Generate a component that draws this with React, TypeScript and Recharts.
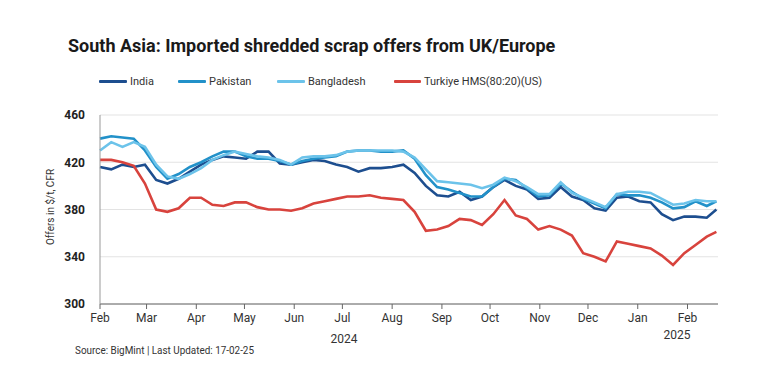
import React from 'react';
import { LineChart, Line, XAxis, YAxis, CartesianGrid } from 'recharts';

// days since 1 Feb 2024 (roughly weekly readings)
const days = [
  0, 7, 14, 21, 28, 35, 42, 49, 56, 63, 70, 77, 84, 91, 98, 105, 112, 119, 126, 133,
  140, 147, 154, 161, 168, 175, 182, 189, 196, 203, 210, 217, 224, 231, 238, 245, 252, 259, 266, 273,
  280, 287, 294, 301, 308, 315, 322, 329, 336, 343, 350, 357, 364, 371, 378, 384,
];

const india = [
  416, 414, 418, 416, 418, 405, 402, 406, 412, 418, 422, 425, 424, 423, 429, 429, 419, 418, 420, 422,
  421, 418, 416, 412, 415, 415, 416, 418, 411, 400, 392, 391, 395, 388, 391, 399, 405, 400, 397, 389,
  390, 399, 391, 388, 381, 379, 390, 391, 387, 386, 376, 371, 374, 374, 373, 380,
];

const pakistan = [
  440, 442, 441, 440, 430, 416, 406, 410, 416, 420, 425, 429, 429, 425, 423, 423, 421, 418, 421, 423,
  424, 425, 429, 430, 430, 429, 429, 430, 423, 409, 399, 397, 394, 391, 391, 399, 406, 405, 398, 391,
  392, 402, 395, 389, 385, 381, 393, 392, 392, 390, 386, 381, 382, 387, 383, 387,
];

const bangladesh = [
  430, 437, 433, 437, 433, 418, 408, 406, 410, 415, 422, 426, 429, 427, 425, 424, 422, 418, 424, 425,
  425, 426, 429, 430, 430, 430, 430, 429, 424, 414, 404, 403, 402, 401, 398, 401, 407, 404, 399, 393,
  393, 403, 394, 390, 386, 382, 393, 395, 395, 394, 389, 384, 385, 388, 387, 387,
];

const turkiye = [
  422, 422, 420, 417, 402, 380, 378, 381, 390, 390, 384, 383, 386, 386, 382, 380, 380, 379, 381, 385,
  387, 389, 391, 391, 392, 390, 389, 388, 378, 362, 363, 366, 372, 371, 367, 376, 388, 375, 372, 363,
  366, 363, 358, 343, 340, 336, 353, 351, 349, 347, 341, 333, 343, 350, 357, 361,
];

const monthStarts = [0, 29, 60, 90, 121, 151, 182, 213, 243, 274, 304, 335, 366];
const monthLabels = ['Feb', 'Mar', 'Apr', 'May', 'Jun', 'Jul', 'Aug', 'Sep', 'Oct', 'Nov', 'Dec', 'Jan', 'Feb'];
const yTicks = [300, 340, 380, 420, 460];

const series = [
  { key: 'India', values: india, color: '#1d4e8f' },
  { key: 'Pakistan', values: pakistan, color: '#2291c9' },
  { key: 'Bangladesh', values: bangladesh, color: '#6cc3ea' },
  { key: 'Turkiye HMS(80:20)(US)', values: turkiye, color: '#d8433d' },
];

const data = days.map((d, i) => {
  const row: any = { day: d };
  series.forEach((s) => (row[s.key] = s.values[i]));
  return row;
});

const font = 'Roboto, "Noto Sans", sans-serif';

export default function App() {
  return (
    <div style={{ position: 'absolute', left: 0, top: 0, width: 778, height: 375, background: '#fff', fontFamily: font }}>
      <div style={{ position: 'absolute', left: 68, top: 35, fontSize: 18, fontWeight: 700, color: '#1a1a1a', whiteSpace: 'nowrap' }}>
        South Asia: Imported shredded scrap offers from UK/Europe
      </div>

      {/* legend */}
      {[
        { x: 99, w: 28 },
        { x: 178, w: 28 },
        { x: 277, w: 28 },
        { x: 394, w: 27 },
      ].map((p, i) => (
        <div key={series[i].key} style={{ position: 'absolute', left: p.x, top: 75, display: 'flex', alignItems: 'center', whiteSpace: 'nowrap' }}>
          <div style={{ width: p.w, height: 3, background: series[i].color, borderRadius: 1 }} />
          <span style={{ fontSize: 11, color: '#333', marginLeft: 3 }}>{series[i].key}</span>
        </div>
      ))}

      <div
        style={{
          position: 'absolute', left: 50, top: 207, fontSize: 10, color: '#333', whiteSpace: 'nowrap',
          transform: 'translate(-50%, -50%) rotate(-90deg)',
        }}
      >
        Offers in $/t, CFR
      </div>

      <div style={{ position: 'absolute', left: 0, top: 0 }}>
        <LineChart width={778} height={375} data={data} margin={{ top: 115, right: 60, bottom: 41, left: 0 }}>
          <CartesianGrid horizontal vertical={false} stroke="#e3e3e3" />
          <XAxis
            dataKey="day"
            type="number"
            domain={[0, 385]}
            ticks={monthStarts}
            tickFormatter={(v: number, i: number) => monthLabels[i]}
            interval={0}
            height={30}
            stroke="#666"
            tickSize={5}
            tickMargin={4}
            tick={{ fontSize: 12, fill: '#333' }}
          />
          <YAxis
            width={100}
            domain={[300, 460]}
            ticks={yTicks}
            tickLine={false}
            stroke="#999"
            tickMargin={9}
            tick={{ fontSize: 12, fill: '#222', fontWeight: 700 }}
          />
          {series.map((s) => (
            <Line
              key={s.key}
              dataKey={s.key}
              type="linear"
              stroke={s.color}
              strokeWidth={2.6}
              dot={false}
              isAnimationActive={false}
            />
          ))}
        </LineChart>
      </div>

      <div style={{ position: 'absolute', left: 344, top: 332, transform: 'translateX(-50%)', fontSize: 12, color: '#333' }}>2024</div>
      <div style={{ position: 'absolute', left: 677, top: 328, transform: 'translateX(-50%)', fontSize: 12, color: '#333' }}>2025</div>

      <div
        style={{
          position: 'absolute', left: 75, top: 344, fontSize: 11, color: '#333', whiteSpace: 'nowrap',
          transform: 'scaleX(0.9)', transformOrigin: 'left top',
        }}
      >
        Source: BigMint | Last Updated: 17-02-25
      </div>
    </div>
  );
}
